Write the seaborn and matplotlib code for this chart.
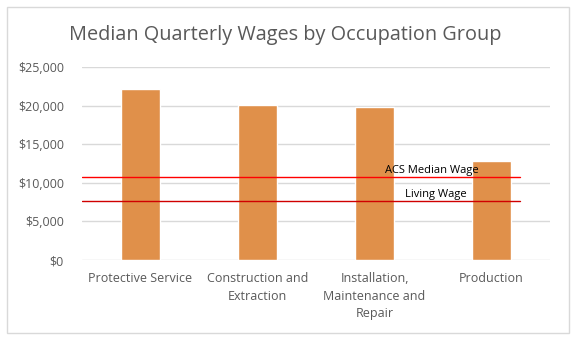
import matplotlib
matplotlib.use("Agg")
import matplotlib.pyplot as plt
import seaborn as sns
import pandas as pd
from matplotlib.patches import Rectangle

categories = ["Protective Service", "Construction and\nExtraction",
              "Installation,\nMaintenance and\nRepair", "Production"]
wages = [22150, 20080, 19820, 12820]
acs_median_wage = 10750
living_wage = 7640
yticks = [0, 5000, 10000, 15000, 20000, 25000]
ytick_labels = ["$0", "$5,000", "$10,000", "$15,000", "$20,000", "$25,000"]

sns.set_theme(style="white")
plt.rcParams['font.family'] = ['Open Sans', 'DejaVu Sans']

fig = plt.figure(figsize=(5.77, 3.41), dpi=100)
fig.patches.append(Rectangle((7/577, 1-333/341), 562/577, 326/341,
                             transform=fig.transFigure, fill=False,
                             edgecolor="#D9D9D9", linewidth=1))
ax = fig.add_axes([82/577, 1-260/341, 468/577, 193/341])

df = pd.DataFrame({"cat": categories, "wage": wages})
sns.barplot(data=df, x="cat", y="wage", color="#E0904A", saturation=1,
            width=0.34, ax=ax, zorder=2)

ax.set_ylim(0, 25000)
ax.set_xlim(-0.5, 3.5)
ax.set_yticks(yticks)
ax.set_yticklabels(ytick_labels, color="#595959", fontsize=9)
ax.tick_params(axis="x", colors="#595959", labelsize=9, length=0, pad=9)
for lbl in ax.get_xticklabels():
    lbl.set_linespacing(1.45)
ax.tick_params(axis="y", length=0, pad=13)
ax.set_xlabel("")
ax.set_ylabel("")
ax.grid(axis="y", color="#D9D9D9", linewidth=1, zorder=0)
for s in ax.spines.values():
    s.set_visible(False)

ax.plot([-0.5, 3.24], [acs_median_wage]*2, color="#FF0000", linewidth=1, zorder=3)
ax.plot([-0.5, 3.24], [living_wage]*2, color="#D00000", linewidth=1, zorder=3)
ax.text(2.49, acs_median_wage + 150, "ACS Median Wage", fontsize=8, color="black",
        ha="center", va="bottom", zorder=4)
ax.text(2.52, living_wage + 150, "Living Wage", fontsize=8, color="black",
        ha="center", va="bottom", zorder=4)

fig.text(285/577, 1-35/341, "Median Quarterly Wages by Occupation Group",
         ha="center", va="center", fontsize=14.3, color="#595959")

fig.savefig("out.png", dpi=100)
